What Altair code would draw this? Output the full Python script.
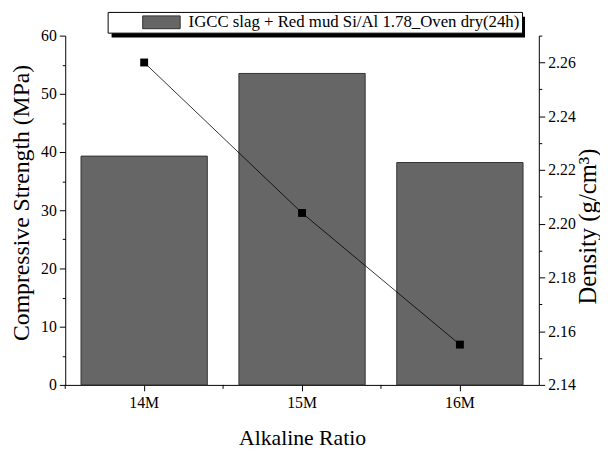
import altair as alt
import pandas as pd

categories = ["14M", "15M", "16M"]
strength = [39.3, 53.5, 38.2]
density = [2.260, 2.204, 2.155]
strength_ticks = [0, 5, 10, 15, 20, 25, 30, 35, 40, 45, 50, 55, 60]
density_ticks = [2.14, 2.15, 2.16, 2.17, 2.18, 2.19, 2.20, 2.21, 2.22, 2.23, 2.24, 2.25, 2.26, 2.27]
series_label = "IGCC slag + Red mud Si/Al 1.78_Oven dry(24h)\u00a0"

df = pd.DataFrame({
    "cat": categories,
    "strength": strength,
    "density": density,
    "series": [series_label] * len(categories),
})

W, H = 480, 354
FONT = "Liberation Serif"

xscale = alt.Scale(paddingInner=0, paddingOuter=0)
x_axis = alt.Axis(
    title="Alkaline Ratio", labelAngle=0, tickSize=6, labelPadding=4,
    titlePadding=17, titleFontSize=22, labelFontSize=16,
    titleFont=FONT, labelFont=FONT, titleFontWeight="normal",
    domainColor="black", tickColor="black", labelColor="black", titleColor="black",
)

x_enc = alt.X("cat:N", sort=categories, scale=xscale, axis=x_axis)

left_axis = alt.Axis(
    title="Compressive Strength (MPa)", values=strength_ticks,
    labelExpr="datum.value % 10 === 0 ? datum.label : ''",
    tickSize={"condition": {"test": "datum.value % 10 === 0", "value": 6}, "value": 3},
    labelPadding=3, titlePadding=7, titleFontSize=24, labelFontSize=16,
    titleY=169,
    titleFont=FONT, labelFont=FONT, titleFontWeight="normal",
    domainColor="black", tickColor="black", labelColor="black", titleColor="black",
    grid=False,
)

right_axis = alt.Axis(
    orient="right", title="Density (g/cm³)", values=density_ticks,
    labelExpr="round(datum.value * 100) % 2 === 0 ? format(datum.value, '.2f') : ''",
    tickSize={"condition": {"test": "round(datum.value * 100) % 2 === 0", "value": 6}, "value": 3},
    labelPadding=3, titlePadding=0, titleFontSize=25, labelFontSize=16,
    titleAngle=270, titleBaseline="top", titleY=193,
    titleFont=FONT, labelFont=FONT, titleFontWeight="normal",
    domainColor="black", tickColor="black", labelColor="black", titleColor="black",
    grid=False,
)

legend = alt.Legend(
    title=None, orient="none", legendX=43, legendY=-24,
    fillColor="white", strokeColor="black", padding=2,
    symbolType="M-2.923,-1L2.923,-1L2.923,1L-2.923,1Z", symbolSize=169,
    symbolStrokeColor="#333333", symbolStrokeWidth=1, symbolOffset=44,
    labelFont=FONT, labelFontSize=17, labelOffset=19, labelLimit=500,
    labelColor="black",
)

bars = alt.Chart(df).mark_bar(
    width=alt.RelativeBandSize(0.8), stroke="#333333", strokeWidth=1
).encode(
    x=x_enc,
    y=alt.Y("strength:Q", scale=alt.Scale(domain=[0, 60], nice=False), axis=left_axis),
    fill=alt.Fill("series:N", scale=alt.Scale(range=["#666666"]), legend=legend),
)

minor_x = alt.Chart(df).mark_rule(color="black", strokeWidth=1).encode(
    x=alt.X("cat:N", sort=categories, scale=xscale, axis=x_axis, bandPosition=0),
    y=alt.value(H),
    y2=alt.value(H + 4),
)

y_right = alt.Y("density:Q", scale=alt.Scale(domain=[2.14, 2.27], nice=False, zero=False), axis=right_axis)

line = alt.Chart(df).mark_line(color="black", strokeWidth=0.8).encode(x=x_enc, y=y_right)
pts = alt.Chart(df).mark_point(shape="square", filled=True, size=64, color="black", opacity=1).encode(x=x_enc, y=y_right)

density_layer = alt.layer(line, pts)

shadow = alt.Chart(pd.DataFrame({"s": [0]})).mark_rect(color="black").encode(
    x=alt.value(47), x2=alt.value(466), y=alt.value(-19), y2=alt.value(2)
)

chart = alt.layer(shadow, bars, minor_x, density_layer).resolve_scale(
    y="independent"
).properties(
    width=W, height=H,
    padding={"left": 58, "top": 25, "right": 62, "bottom": 64},
    autosize=alt.AutoSizeParams(type="none"),
    background="white",
).configure(
    font=FONT
).configure_axis(
    labelFont=FONT, titleFont=FONT
).configure_legend(
    labelFont=FONT
).configure_view(strokeWidth=0)

chart.save("out.html", embed_options={"renderer": "svg", "actions": False})
